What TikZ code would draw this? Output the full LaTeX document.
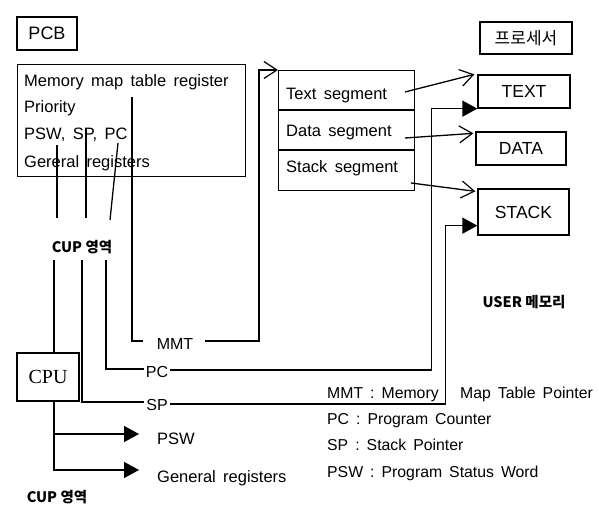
\documentclass[tikz,border=0pt]{standalone}
\usepackage{fontspec}
\setmainfont{Liberation Sans}[WordSpace=1.6]
\newfontfamily\seriffont{Liberation Serif}
\newfontfamily\krfont{Noto Sans CJK KR}
\usetikzlibrary{arrows.meta,calc}
\begin{document}
\begin{tikzpicture}[x=1pt,y=-1pt,
  ln/.style={line width=1.3pt},
  boxd/.style={draw, line width=1.3pt, inner sep=0pt},
  txt/.style={inner sep=0pt, anchor=base west, font=\fontsize{16.5}{18}\selectfont},
  lgd/.style={inner sep=0pt, anchor=base west, font=\fontsize{15.8}{18}\selectfont},
  lab/.style={inner sep=0pt, font=\fontsize{16}{18}\selectfont},
  openarr/.style={-{Straight Barb[length=13pt,width=17pt,line width=1.2pt]}},
  fillarr/.style={-{Triangle[length=15pt,width=16pt]}},
  krb/.style={inner sep=0pt, font=\krfont\bfseries\fontsize{14.5}{16}\selectfont},
]
\useasboundingbox (0,0) rectangle (599,518);

% ---- PCB ----
\node[boxd, minimum width=60, minimum height=33, font=\fontsize{18}{20}\selectfont] (pcb) at (47,33.5) {PCB};
\node[boxd, minimum width=228, minimum height=112, anchor=north west] (pcbbox) at (17,64) {};
\node[txt] (mmr) at (24,87) {Memory map table register};
\node[txt] (pri) at (24,113) {Priority};
\node[txt] (regs) at (24,140) {PSW, SP, PC};
\node[txt] (gen) at (24,168) {Gereral registers};

% ---- segments ----
\node[boxd, minimum width=136, minimum height=120, anchor=north west] (seg) at (278,70) {};
\draw[ln] ($(seg.north west)+(0,40)$) -- ($(seg.north east)+(0,40)$);
\draw[ln] ($(seg.north west)+(0,80)$) -- ($(seg.north east)+(0,80)$);
\node[txt] (tseg) at (286,100) {Text segment};
\node[txt] (dseg) at (286,137) {Data segment};
\node[txt] (sseg) at (286,173) {Stack segment};

% ---- processor side ----
\node[boxd, minimum width=92, minimum height=32, font=\krfont\fontsize{17}{18}\selectfont] (proc) at (526,38) {프로세서};
\node[boxd, minimum width=92, minimum height=33, font=\fontsize{17.5}{20}\selectfont] (tbox) at (524,91.5) {TEXT};
\node[boxd, minimum width=90, minimum height=33, font=\fontsize{17.5}{20}\selectfont] (dbox) at (521,148.5) {DATA};
\node[boxd, minimum width=91, minimum height=46, font=\fontsize{17.5}{20}\selectfont] (sbox) at (523.5,212) {STACK};
\node[krb] (user) at (524,302) {USER 메모리};

% ---- CPU side ----
\node[krb] (cup1) at (82,247) {CUP 영역};
\node[krb] (cup2) at (57,497) {CUP 영역};
\node[boxd, minimum width=62, minimum height=48, font=\seriffont\fontsize{20}{22}\selectfont] (cpu) at (48,377) {CPU};

\node[lab] (mmt) at (175,344) {MMT};
\node[lab] (pc) at (157,372) {PC};
\node[lab] (sp) at (157,405) {SP};
\node[txt] (psw) at (157,444) {PSW};
\node[txt] (genr) at (157,482) {General registers};

% ---- legend ----
\node[lgd] (lg1) at (327,398) {MMT : Memory};
\node[lgd] (lg1b) at (460,398) {Map Table Pointer};
\node[lgd] (lg2) at (327,424) {PC : Program Counter};
\node[lgd] (lg3) at (327,450) {SP : Stack Pointer};
\node[lgd] (lg4) at (327,477) {PSW : Program Status Word};

% ---- coordinates ----
\coordinate (mmtA) at (132,97);
\coordinate (mmtL) at (143,341);
\coordinate (mmtR) at (205,341);
\coordinate (mmtC) at (259,70);
\coordinate (pswA) at (57,145);
\coordinate (pswB) at (57,218);
\coordinate (spA) at (86,128);
\coordinate (spB) at (86,218);
\coordinate (pcA) at (118,143);
\coordinate (pcB) at (110,220);
\coordinate (c1) at (54,260);
\coordinate (c2) at (82,260);
\coordinate (c3) at (106,260);
\coordinate (spL) at (144,402);
\coordinate (pcL) at (144,369);
\coordinate (pcR) at (170,370);
\coordinate (spR) at (170,404);
\coordinate (pswT) at (139,434);
\coordinate (genT) at (139,470);
\coordinate (ts) at (405,92);
\coordinate (ds) at (405,138);
\coordinate (ss) at (411,183);

% ---- connectors ----
\draw[ln] (pswA) -- (pswB);
\draw[ln] (spA) -- (spB);
\draw[ln] (pcA) -- (pcB);
\draw[ln] (c1) -- ([xshift=6pt]cpu.north);
\draw[ln] (c2) |- (spL);
\draw[ln] (c3) |- (pcL);
\draw[ln] (mmtA) |- (mmtL);
\draw[ln,openarr] (mmtR) -| (mmtC) -- (seg.north west);
\draw[ln,openarr] (ts) -- ([xshift=-3pt]tbox.north west);
\draw[ln,openarr] (ds) -- ([xshift=-2pt,yshift=-2pt]dbox.north west);
\draw[ln,openarr] (ss) -- ([xshift=-2pt,yshift=-3pt]sbox.north west);
\draw[ln,fillarr] (pcR) -| ([xshift=-46pt]tbox.south west) -- (tbox.south west);
\draw[ln,fillarr] (spR) -| ([xshift=-32pt,yshift=10pt]sbox.south west) -- ([yshift=10pt]sbox.south west);
\draw[ln,fillarr] ([xshift=6pt]cpu.south) |- (pswT);
\draw[ln,fillarr] ([xshift=6pt]cpu.south) |- (genT);
\end{tikzpicture}
\end{document}
